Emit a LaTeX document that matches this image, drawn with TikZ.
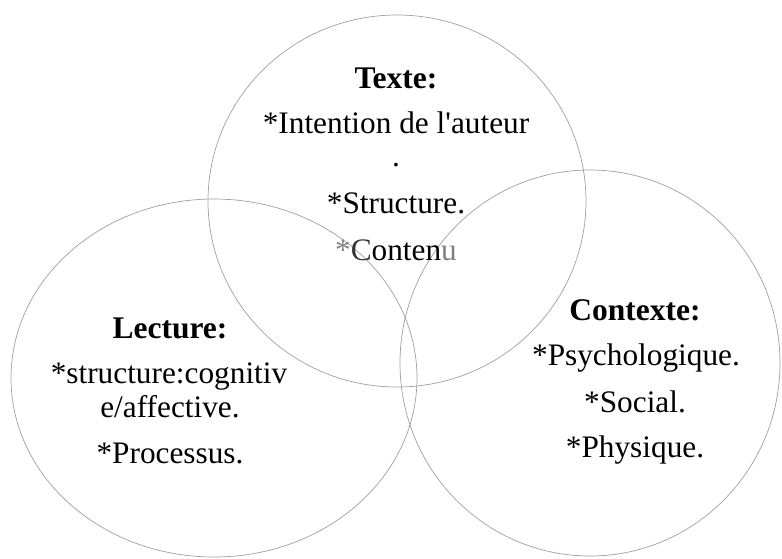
\documentclass[tikz,border=0pt]{standalone}
\usepackage{fontspec}
\setmainfont{Liberation Serif}
\begin{document}
\begin{tikzpicture}[x=1pt,y=-1pt,
  ring/.style={draw=gray!75,line width=0.7pt},
  txt/.style={anchor=base,inner sep=0pt,font=\fontsize{31.3}{36}\selectfont},
  head/.style={txt,font=\fontsize{31.5}{36}\selectfont\bfseries}]
\useasboundingbox (0,0) rectangle (782,558);
% circles
\draw[ring] (397,201) ellipse [x radius=189,y radius=186];
\draw[ring] (214,378) ellipse [x radius=203,y radius=179];
\draw[ring] (590,363) ellipse [x radius=190,y radius=193];
% Texte
\node[head] (texte) at (396,88) {Texte:};
\node[txt] (t1) at (396,133) {*Intention de l\textquotesingle auteur};
\node[txt] (t2) at (396,166) {.};
\node[txt] (t3) at (396,213) {*Structure.};
\node[txt] (t4) at (396,260) {\textcolor{gray}{*}\textcolor{black!80}{C}onten\textcolor{gray}{u}};
% Lecture
\node[head] (lecture) at (170,338) {Lecture:};
\node[txt] (l1) at (169,383) {*structure:cognitiv};
\node[txt] (l2) at (170,417) {e/affective.};
\node[txt] (l3) at (170,463) {*Processus.};
% Contexte
\node[head] (contexte) at (635,320) {Contexte:};
\node[txt] (c1) at (636,365) {*Psychologique.};
\node[txt] (c2) at (635,412) {*Social.};
\node[txt] (c3) at (635,457) {*Physique.};
\end{tikzpicture}
\end{document}
